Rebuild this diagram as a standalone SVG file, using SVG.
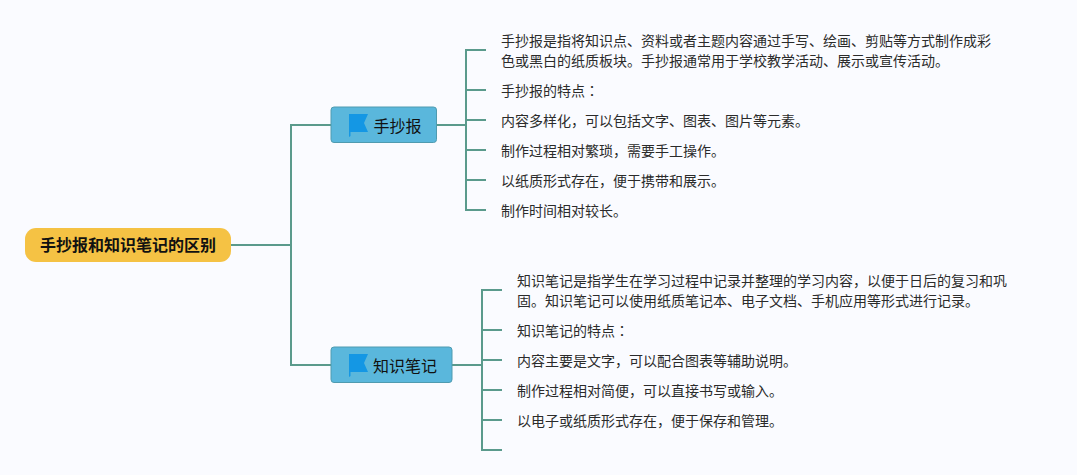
<svg xmlns="http://www.w3.org/2000/svg" width="1077" height="475" viewBox="0 0 1077 475">
<style>
text{font-family:"Noto Sans CJK SC","Noto Sans",sans-serif;fill:#2b2b2b}
.leaf{font-size:14px}
.colon{font-family:"Noto Sans CJK JP","Noto Sans",sans-serif}
.branch{font-size:16px;fill:#111}
.root{font-size:16px;font-weight:700;fill:#111}
.box{fill:#5ab7dc;stroke:#4f9bb0;stroke-width:1}
.flag{fill:#1497e4}
.ln{fill:none;stroke:#5a9a8c;stroke-width:2}
</style>
<rect width="1077" height="475" fill="#fafbff"/>
<g id="connectors">
<path class="ln" d="M231 245H291M331 125H291V365H331"/>
<path class="ln" d="M436 125H466M486 50H466V210H486M466 90H486M466 120H486M466 150H486M466 180H486"/>
<path class="ln" d="M452 365H482M502 290H482V450H502M482 330H502M482 360H502M482 390H502M482 420H502"/>
</g>
<g id="root"><rect x="25" y="228" width="206" height="34" rx="11" fill="#f5c244"/><text class="root" x="40" y="251">手抄报和知识笔记的区别</text></g>
<g id="branch1"><rect class="box" x="331" y="107" width="105.500" height="35.500" rx="3"/><path class="flag" d="M349 114H368L364 123L368 132H350.500V136L349 137Z"/><text class="branch" x="373.500" y="132">手抄报</text></g>
<g id="branch2"><rect class="box" x="331" y="347" width="121" height="35.500" rx="3"/><path class="flag" d="M349 354H368L364 363L368 372H350.500V376L349 377Z"/><text class="branch" x="373" y="372">知识笔记</text></g>
<g id="leaf1"><text class="leaf" x="501" y="46">手抄报是指将知识点、资料或者主题内容通过手写、绘画、剪贴等方式制作成彩</text><text class="leaf" x="501" y="66">色或黑白的纸质板块。手抄报通常用于学校教学活动、展示或宣传活动。</text></g>
<g id="leaf2"><text class="leaf" x="501" y="96">手抄报的特点<tspan class="colon">：</tspan></text></g>
<g id="leaf3"><text class="leaf" x="501" y="126">内容多样化，可以包括文字、图表、图片等元素。</text></g>
<g id="leaf4"><text class="leaf" x="501" y="156">制作过程相对繁琐，需要手工操作。</text></g>
<g id="leaf5"><text class="leaf" x="501" y="186">以纸质形式存在，便于携带和展示。</text></g>
<g id="leaf6"><text class="leaf" x="501" y="216">制作时间相对较长。</text></g>
<g id="leaf7"><text class="leaf" x="517" y="286">知识笔记是指学生在学习过程中记录并整理的学习内容，以便于日后的复习和巩</text><text class="leaf" x="517" y="306">固。知识笔记可以使用纸质笔记本、电子文档、手机应用等形式进行记录。</text></g>
<g id="leaf8"><text class="leaf" x="517" y="336">知识笔记的特点<tspan class="colon">：</tspan></text></g>
<g id="leaf9"><text class="leaf" x="517" y="366">内容主要是文字，可以配合图表等辅助说明。</text></g>
<g id="leaf10"><text class="leaf" x="517" y="396">制作过程相对简便，可以直接书写或输入。</text></g>
<g id="leaf11"><text class="leaf" x="517" y="426">以电子或纸质形式存在，便于保存和管理。</text></g>
</svg>
